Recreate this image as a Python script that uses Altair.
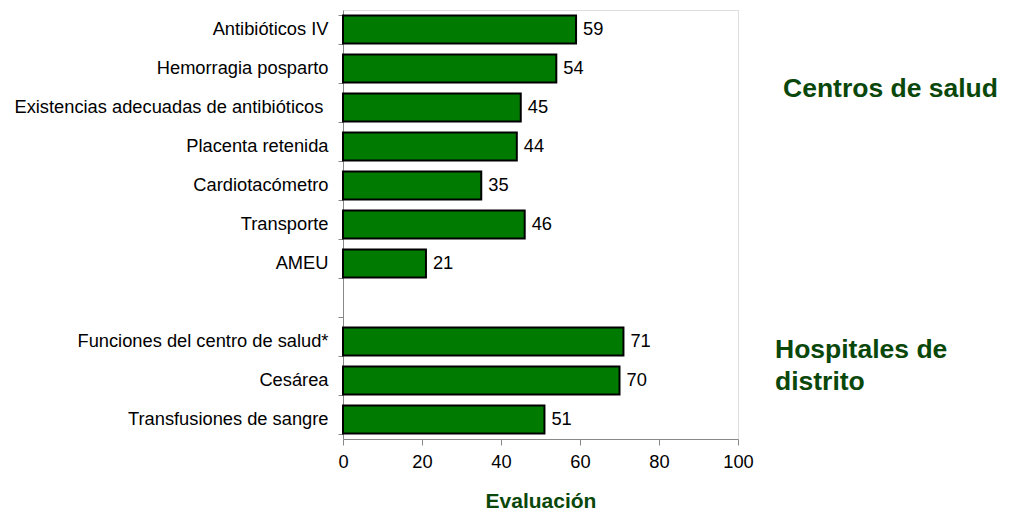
import altair as alt
import pandas as pd

# Category order from top to bottom; " " is the empty spacer row between groups
categories = [
    "Antibióticos IV",
    "Hemorragia posparto",
    "Existencias adecuadas de antibióticos \u200b",
    "Placenta retenida",
    "Cardiotacómetro",
    "Transporte",
    "AMEU",
    " ",
    "Funciones del centro de salud*",
    "Cesárea",
    "Transfusiones de sangre",
]
bar_labels = [c for c in categories if c != " "]
scores = [59, 54, 45, 44, 35, 46, 21, 71, 70, 51]

group_top = "Centros de salud"
group_bottom = ["Hospitales de", "distrito"]

df = pd.DataFrame({"item": bar_labels, "score": scores})

FONT = "Liberation Sans"
GREEN = "#007a00"
DARK_GREEN = "#0a470a"
TXT = 18.3

y_enc = alt.Y(
    "item:N",
    sort=categories,
    scale=alt.Scale(domain=categories, paddingInner=0.28, paddingOuter=0.14),
    axis=alt.Axis(
        title=None,
        tickBand="extent",
        tickSize=5,
        labelPadding=10,
        labelFontSize=TXT,
        labelLimit=400,
    ),
)

x_enc = alt.X(
    "score:Q",
    scale=alt.Scale(domain=[0, 100]),
    axis=alt.Axis(
        title="Evaluación",
        values=[0, 20, 40, 60, 80, 100],
        tickSize=6,
        labelPadding=8,
        labelFlush=False,
        labelFontSize=TXT,
        titleFontSize=21,
        titleFontWeight="bold",
        titleColor=DARK_GREEN,
        titlePadding=20,
        grid=False,
    ),
)

bars = alt.Chart(df).mark_bar(
    color=GREEN, stroke="black", strokeWidth=2
).encode(x=x_enc, y=y_enc)

values = alt.Chart(df).mark_text(
    align="left", baseline="middle", dx=7, fontSize=TXT, font=FONT, color="black"
).encode(x="score:Q", y=alt.Y("item:N", sort=categories), text="score:Q")

ann_top = alt.Chart().mark_text(
    text=group_top, align="left", baseline="alphabetic",
    fontSize=26.5, fontWeight="bold", font=FONT, color=DARK_GREEN,
).encode(x=alt.value(440), y=alt.value(87))

ann_bottom = alt.Chart().mark_text(
    text=group_bottom, align="left", baseline="alphabetic", lineHeight=32,
    fontSize=26.5, fontWeight="bold", font=FONT, color=DARK_GREEN,
).encode(x=alt.value(432), y=alt.value(348))

chart = (
    alt.layer(bars, values, ann_top, ann_bottom)
    .properties(
        width=395,
        height=429,
        autosize=alt.AutoSizeParams(type="none"),
        padding={"left": 343, "top": 10, "right": 272, "bottom": 73},
    )
    .configure_view(stroke="#999999", strokeWidth=2)
    .configure_axis(
        domainColor="black",
        domainWidth=2,
        tickColor="black",
        tickWidth=2,
        labelColor="black",
        labelFont=FONT,
        titleFont=FONT,
        grid=False,
    )
    .configure(background="white")
)

chart.save("out.html", embed_options={"renderer": "svg", "actions": False})
